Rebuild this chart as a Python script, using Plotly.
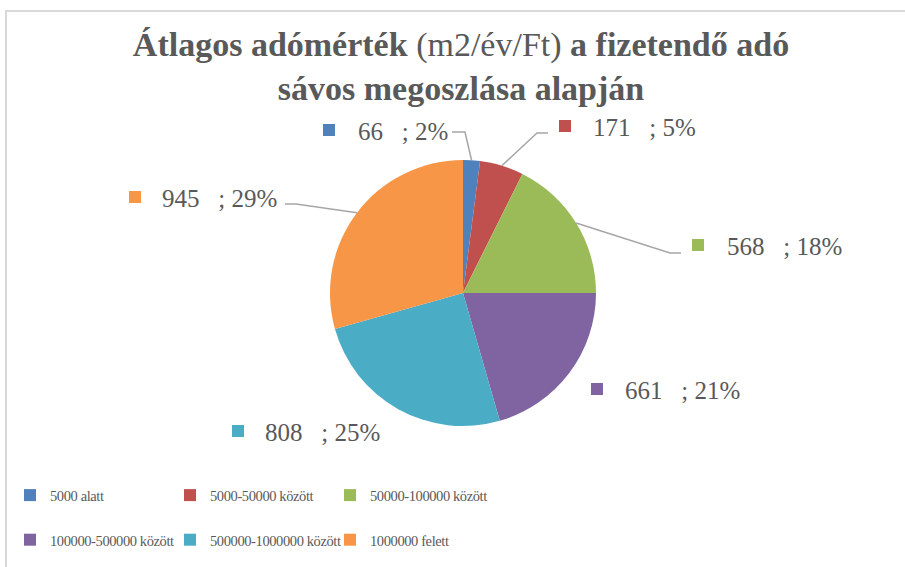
import math
import plotly.graph_objects as go

# ---- data ----
categories = ["5000 alatt", "5000-50000 között", "50000-100000 között",
              "100000-500000 között", "500000-1000000 között", "1000000 felett"]
values = [66, 171, 568, 661, 808, 945]
percent_labels = ["2%", "5%", "18%", "21%", "25%", "29%"]
colors = ["#4F81BD", "#C0504D", "#9BBB59", "#8064A2", "#4BACC6", "#F79646"]

W, H = 905, 567
PW = 600            # plot-area width (right margin limits legend to 3 columns)
cx, cy, R = 463, 293, 133
TXT = "#595959"
FONT = "Liberation Serif"

def px(x):
    return x / PW

def py(y):
    return 1 - y / H

fig = go.Figure()
fig.add_trace(go.Pie(
    labels=[f"<span style='font-size:14.5px;letter-spacing:-0.4px'>{c}</span><br>\u00a0"
            for c in categories],
    values=values,
    sort=False,
    direction="clockwise",
    rotation=0,
    textinfo="none",
    marker=dict(colors=colors, line=dict(width=0)),
    domain=dict(x=[px(cx - R), px(cx + R)], y=[py(cy + R), py(cy - R)]),
    hoverinfo="value+percent",
))

# label layout (pixel positions: marker centre x, marker centre y, text start x)
label_pos = [
    (329, 130, 356), (565, 126, 591), (698, 245, 725),
    (597, 389, 623), (238, 431, 263), (135, 197, 160),
]
# leader lines: elbow and end points (None = no leader)
leaders = [
    [(465, 132), (452, 132)],
    [(537, 133), (548, 133)],
    [(670, 253), (681, 253)],
    None,
    None,
    [(296, 204), (285, 204)],
]

total = sum(values)
cum = 0
shapes = []
annotations = []
for i, v in enumerate(values):
    mid = (cum + v / 2) / total
    cum += v
    th = 2 * math.pi * mid
    ex, ey = cx + R * math.sin(th), cy - R * math.cos(th)
    if leaders[i]:
        (bx, by), (tx, ty) = leaders[i]
        path = f"M{px(ex)},{py(ey)} L{px(bx)},{py(by)} L{px(tx)},{py(ty)}"
        shapes.append(dict(type="path", xref="paper", yref="paper", path=path,
                           line=dict(color="#A6A6A6", width=1.5)))
    mx, my, tx0 = label_pos[i]
    shapes.append(dict(type="rect", xref="paper", yref="paper",
                       x0=px(mx - 6), x1=px(mx + 6), y0=py(my + 6), y1=py(my - 6),
                       fillcolor=colors[i], line=dict(width=0)))
    annotations.append(dict(
        xref="paper", yref="paper", x=px(tx0), y=py(my + 1),
        xanchor="left", yanchor="middle", showarrow=False,
        text=f"{v}\u00a0\u00a0\u00a0; {percent_labels[i]}",
        font=dict(family=FONT, size=25, color=TXT),
    ))

# chart border (only top/left visible in the crop)
shapes.append(dict(type="rect", xref="paper", yref="paper",
                   x0=px(6), x1=px(W + 20), y0=py(H + 20), y1=py(11),
                   line=dict(color="#D9D9D9", width=2), layer="below"))

fig.update_layout(
    width=W, height=H,
    margin=dict(l=0, r=W - PW, t=0, b=0, autoexpand=False),
    paper_bgcolor="white",
    plot_bgcolor="white",
    title=dict(
        text="<b>Átlagos adómérték</b> (m2/év/Ft) <b>a fizetendő adó</b><br><b>sávos megoszlása alapján</b>",
        xref="container", yref="container",
        x=461 / W, xanchor="center", y=1 - 56 / H, yanchor="middle",
        font=dict(family=FONT, size=34, color=TXT),
    ),
    showlegend=True,
    legend=dict(
        orientation="h",
        x=px(10), xanchor="left",
        y=py(473), yanchor="top",
        entrywidth=115, entrywidthmode="pixels",
        valign="top",
        bgcolor="rgba(0,0,0,0)",
        font=dict(family=FONT, size=16, color=TXT),
        title=dict(text="\u00a0" * 520, side="top", font=dict(size=4, color="white")),
        traceorder="normal",
    ),
    shapes=shapes,
    annotations=annotations,
)

fig.write_html("out.html", config={"displayModeBar": False},
               post_script="document.body.style.margin='0px';")
